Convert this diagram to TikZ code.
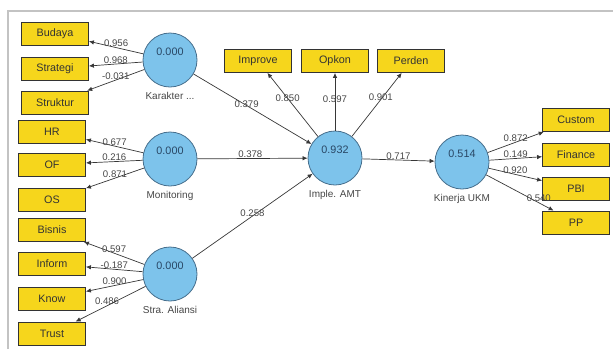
\documentclass[tikz,border=0pt]{standalone}
\usepackage{fontspec}
\setmainfont{Liberation Sans}
\usetikzlibrary{arrows.meta}
\definecolor{boxyellow}{RGB}{246,214,28}
\definecolor{circblue}{RGB}{125,195,235}
\definecolor{circedge}{RGB}{70,110,140}
\definecolor{valblue}{RGB}{40,70,100}
\definecolor{linegray}{RGB}{55,55,55}
\definecolor{framegray}{RGB}{195,195,195}
\definecolor{txtgray}{RGB}{70,70,70}
\begin{document}
\begin{tikzpicture}[x=1pt,y=-1pt,
  ind/.style={draw=black!80, line width=0.8pt, fill=boxyellow, minimum width=67pt,
    minimum height=23pt, inner sep=0pt, font=\fontsize{10.8}{12}\selectfont, text=black!80},
  lat/.style={circle, draw=circedge, line width=0.8pt, fill=circblue, minimum size=54pt,
    inner sep=0pt},
  cl/.style={font=\fontsize{10}{11}\selectfont, text=txtgray, label distance=1pt},
  vl/.style={font=\fontsize{10.8}{12}\selectfont, text=valblue, yshift=8pt},
  conn/.style={draw=linegray, line width=0.7pt, -{Latex[length=5pt,width=4.5pt]}},
  w/.style={font=\fontsize{9.6}{11}\selectfont, text=txtgray, inner sep=0.5pt}
]
\useasboundingbox (0,0) rectangle (613,349);
% frame
\coordinate (f1) at (8,349);
\coordinate (f2) at (8,11);
\coordinate (f3) at (613,11);
\draw[framegray, line width=1.5pt] (f1) -- (f2) -- (f3);

% indicators left
\node[ind] (bud) at (55,33.5) {Budaya};
\node[ind] (str) at (55,68.5) {Strategi};
\node[ind] (stk) at (55,102.5) {Struktur};
\node[ind] (hr) at (52,131.5) {HR};
\node[ind] (of) at (52,164.5) {OF};
\node[ind] (os) at (52,200) {OS};
\node[ind] (bis) at (52,230) {Bisnis};
\node[ind] (inf) at (52,264) {Inform};
\node[ind] (kno) at (52,298.5) {Know};
\node[ind] (tru) at (52,333.5) {Trust};
% indicators top
\node[ind] (imp) at (258,61) {Improve};
\node[ind] (opk) at (335,61) {Opkon};
\node[ind] (per) at (411,61) {Perden};
% indicators right
\node[ind] (cus) at (576,120) {Custom};
\node[ind] (fin) at (576,154.5) {Finance};
\node[ind] (pbi) at (576,188.5) {PBI};
\node[ind] (pp) at (576,222.5) {PP};

% latent variables
\node[lat, label={[vl]center:0.000}, label={[cl]below:Karakter ...}] (kar) at (170,60) {};
\node[lat, label={[vl]center:0.000}, label={[cl]below:Monitoring}] (mon) at (170,159) {};
\node[lat, label={[vl]center:0.000}, label={[cl]below:Stra. Aliansi}] (sa) at (170,274) {};
\node[lat, label={[vl]center:0.932}, label={[cl]below:Imple. AMT}] (amt) at (335,158) {};
\node[lat, label={[vl]center:0.514}, label={[cl]below:Kinerja UKM}] (kin) at (462,162) {};

% loadings left
\draw[conn] (kar) -- node[w, above, pos=0.5] {0.956} (bud);
\draw[conn] (kar) -- node[w, above, pos=0.5] {0.968} (str);
\draw[conn] (kar) -- node[w, above, pos=0.5] {-0.031} (stk);
\draw[conn] (mon) -- node[w, above, pos=0.5] {0.677} (hr);
\draw[conn] (mon) -- node[w, above, pos=0.5] {0.216} (of);
\draw[conn] (mon) -- node[w, above, pos=0.5] {0.871} (os);
\draw[conn] (sa) -- node[w, above, pos=0.5] {0.597} (bis);
\draw[conn] (sa) -- node[w, above, pos=0.5] {-0.187} (inf);
\draw[conn] (sa) -- node[w, above, pos=0.5] {0.900} (kno);
\draw[conn] (sa) -- node[w, above, pos=0.55] {0.486} (tru);
% loadings top
\draw[conn] (amt) -- node[w, pos=0.6] {0.850} (imp);
\draw[conn] (amt) -- node[w, pos=0.55] {0.597} (opk);
\draw[conn] (amt) -- node[w, pos=0.62, xshift=-2pt] {0.901} (per);
% loadings right
\draw[conn] (kin) -- node[w, above, pos=0.5] {0.872} (cus);
\draw[conn] (kin) -- node[w, above, pos=0.5] {0.149} (fin);
\draw[conn] (kin) -- node[w, above, pos=0.5] {0.920} (pbi);
\draw[conn] (kin) -- node[w, above, pos=0.78] {0.540} (pp);
% structural paths
\draw[conn] (kar) -- node[w, pos=0.45, yshift=1pt] {0.379} (amt);
\draw[conn] (mon) -- node[w, above, pos=0.48] {0.378} (amt);
\draw[conn] (sa) -- node[w, pos=0.5, yshift=3pt] {0.258} (amt);
\draw[conn] (amt) -- node[w, above, pos=0.5] {0.717} (kin);
\end{tikzpicture}
\end{document}
